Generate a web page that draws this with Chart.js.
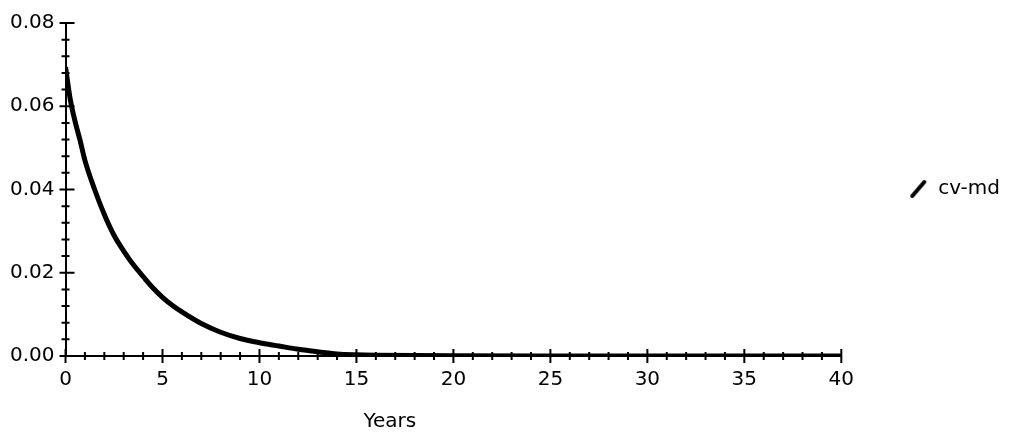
<!DOCTYPE html>
<html lang="en">
<head>
    <meta charset="UTF-8">
    <title>cv-md vs Years</title>
    <script src="https://cdn.jsdelivr.net/npm/chart.js"></script>
    <style>
        body { margin: 0; background: #fff; }
        #wrap { width: 1013px; height: 439px; }
    </style>
</head>
<body>
<div id="wrap"><canvas id="cvChart"></canvas></div>

<script>
// values
const years = [0, 0.25, 0.5, 0.75, 1, 1.5, 2, 2.5, 3, 3.5, 4, 4.5, 5, 5.5, 6, 7, 8, 9, 10,
               11, 12, 13, 14, 15, 16, 18, 20, 25, 30, 35, 40];
const cvMd = [0.0694, 0.0615, 0.0562, 0.0518, 0.047, 0.040, 0.034, 0.029, 0.0252, 0.0219,
              0.0191, 0.0164, 0.0141, 0.0122, 0.0106, 0.0078, 0.0057, 0.0042, 0.0032,
              0.0024, 0.0016, 0.0010, 0.0005, 0.0003, 0.0002, 0.0001, 0.00005, 0, 0, 0, 0];
const seriesName = 'cv-md';
const xTitle = 'Years';
const xMax = 40, xStep = 5, xMinorStep = 1;
const yMax = 0.08, yStep = 0.02, yMinorStep = 0.004;

Chart.defaults.font.family = "'DejaVu Sans', sans-serif";
Chart.defaults.font.size = 20;
Chart.defaults.color = '#000';

// slanted stroke used as the legend symbol
function legendIcon() {
    let c = document.createElement('canvas');
    c.width = 18; c.height = 20;
    let g = c.getContext('2d');
    g.strokeStyle = '#000';
    g.lineWidth = 4;
    g.lineCap = 'round';
    g.beginPath();
    g.moveTo(3, 17);
    g.lineTo(15, 3);
    g.stroke();
    return c;
}

// ticks crossing the axes, major and minor, plus the axis title
const axisMarks = {
    id: 'axisMarks',
    afterLayout(chart) {
        // legend box spans down to the bottom padding; lift it so it centres on the plot
        const lg = chart.legend;
        lg.top -= 21;
        lg.bottom -= 21;
    },
    afterDraw(chart) {
        const { ctx, chartArea, scales: { x, y } } = chart;
        const ax = x.getPixelForValue(0);
        const ay = y.getPixelForValue(0);
        ctx.save();
        ctx.strokeStyle = '#000';
        ctx.lineWidth = 2;
        ctx.beginPath();
        for (let i = 0; i <= xMax / xMinorStep; i++) {
            let v = i * xMinorStep;
            let px = x.getPixelForValue(v);
            let major = v % xStep === 0;
            ctx.moveTo(px, ay - (major ? 7 : 4));
            ctx.lineTo(px, ay + (major ? 7 : 4));
        }
        let nY = Math.round(yMax / yMinorStep);
        for (let i = 0; i <= nY; i++) {
            let py = y.getPixelForValue(i * yMinorStep);
            let major = i % 5 === 0;
            ctx.moveTo(ax - (major ? 6 : 4), py);
            ctx.lineTo(ax + (major ? 9 : 4), py);
        }
        ctx.stroke();

        ctx.fillStyle = '#000';
        ctx.font = "20px 'DejaVu Sans', sans-serif";
        ctx.textAlign = 'center';
        ctx.textBaseline = 'middle';
        ctx.fillText(xTitle, chartArea.left + chartArea.width * 0.418, 422);
        ctx.restore();
    }
};

const points = years.map((t, i) => ({ x: t, y: cvMd[i] }));

new Chart(document.getElementById('cvChart'), {
    type: 'line',
    data: {
        datasets: [{
            label: seriesName,
            data: points,
            borderColor: '#000',
            backgroundColor: '#000',
            borderWidth: 5,
            pointRadius: 0,
            pointStyle: legendIcon(),
            cubicInterpolationMode: 'monotone',
            fill: false
        }]
    },
    options: {
        responsive: true,
        maintainAspectRatio: false,
        animation: false,
        layout: { padding: { top: 23, left: 5, right: 3, bottom: 42 } },
        plugins: {
            legend: {
                position: 'right',
                labels: {
                    usePointStyle: true,
                    boxWidth: 20,
                    padding: 67,
                    font: { size: 20 },
                    color: '#000'
                }
            },
            tooltip: { enabled: false }
        },
        scales: {
            x: {
                type: 'linear',
                min: 0,
                max: xMax,
                grid: { display: false, drawTicks: true, tickLength: 7 },
                border: { display: true, color: '#000', width: 2 },
                ticks: { stepSize: xStep, padding: 5, maxRotation: 0, color: '#000' }
            },
            y: {
                min: 0,
                max: yMax,
                grid: { display: false, drawTicks: true, tickLength: 6 },
                border: { display: true, color: '#000', width: 2 },
                ticks: {
                    stepSize: yStep,
                    padding: 5,
                    color: '#000',
                    callback: v => v.toFixed(2)
                }
            }
        }
    },
    plugins: [axisMarks]
});
</script>
</body>
</html>
